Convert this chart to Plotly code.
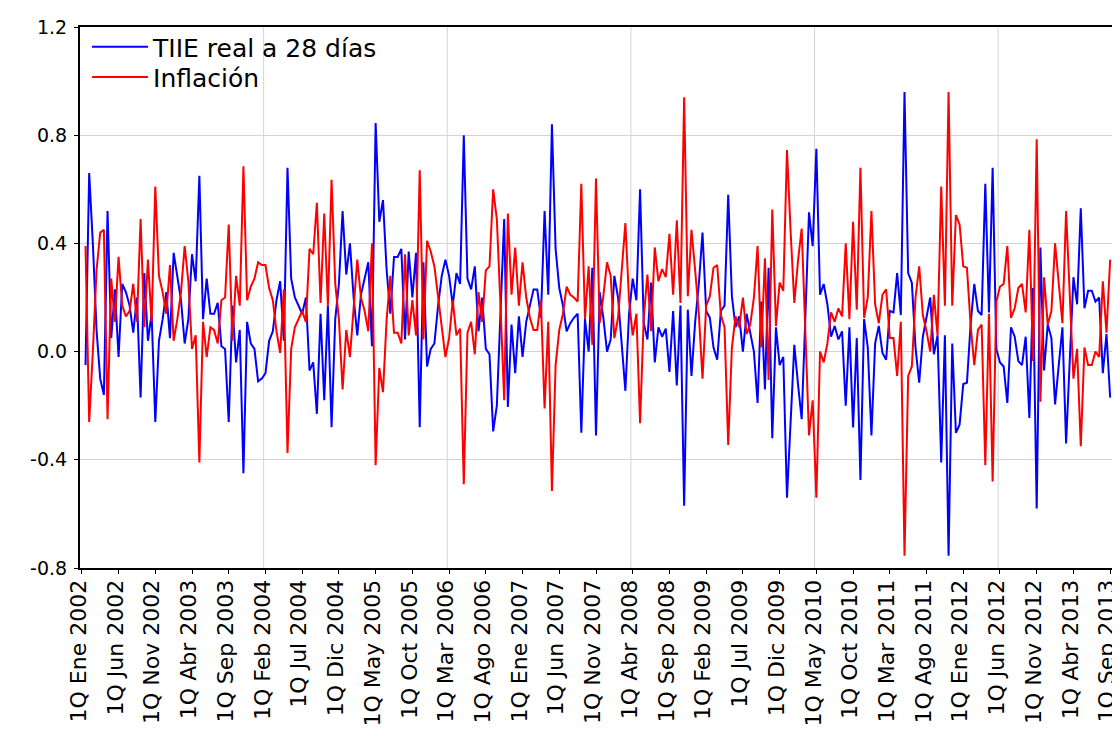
import plotly.graph_objects as go

# Biweekly periods: index 0 = 1Q Ene 2002 ... index 280 = 1Q Sep 2013
period_index = list(range(1, 281))

tiie_real = [
    -0.05, 0.66, 0.40, 0.08, -0.10, -0.16, 0.52, 0.05, 0.23, -0.02,
    0.25, 0.22, 0.17, 0.07, 0.20, -0.17, 0.29, 0.04, 0.14, -0.26,
    0.04, 0.12, 0.22, 0.05, 0.365, 0.27, 0.19, 0.03, 0.12, 0.36,
    0.26, 0.65, 0.12, 0.27, 0.14, 0.14, 0.18, 0.02, 0.01, -0.26,
    0.17, -0.04, 0.08, -0.45, 0.11, 0.03, 0.01, -0.11, -0.10, -0.08,
    0.04, 0.075, 0.19, 0.26, 0.04, 0.68, 0.27, 0.20, 0.17, 0.14,
    0.20, -0.07, -0.04, -0.23, 0.14, -0.18, 0.17, -0.28, 0.12, 0.25,
    0.52, 0.285, 0.40, 0.20, 0.06, 0.21, 0.27, 0.33, 0.02, 0.845,
    0.48, 0.56, 0.30, 0.14, 0.35, 0.35, 0.38, 0.045, 0.37, 0.20,
    0.365, -0.28, 0.33, -0.055, 0.01, 0.03, 0.17, 0.28, 0.34, 0.28,
    0.17, 0.29, 0.25, 0.80, 0.27, 0.23, 0.315, 0.075, 0.20, 0.01,
    -0.01, -0.295, -0.20, 0.12, 0.49, -0.205, 0.10, -0.08, 0.13, -0.02,
    0.11, 0.17, 0.23, 0.23, 0.125, 0.52, 0.21, 0.84, 0.38, 0.235,
    0.17, 0.075, 0.105, 0.125, 0.14, -0.30, 0.12, 0.00, 0.31, -0.31,
    0.22, 0.125, 0.00, 0.045, 0.28, 0.20, 0.04, -0.145, 0.14, 0.27,
    0.19, 0.60, 0.105, 0.045, 0.255, -0.04, 0.09, 0.055, 0.085, -0.075,
    0.15, -0.125, 0.17, -0.57, 0.155, -0.09, 0.11, 0.25, 0.44, 0.15,
    0.125, 0.015, -0.03, 0.15, 0.17, 0.58, 0.205, 0.09, 0.13, 0.00,
    0.14, 0.075, 0.00, -0.19, 0.185, -0.14, 0.31, -0.32, 0.09, -0.05,
    -0.02, -0.54, -0.26, 0.025, -0.12, -0.25, 0.125, 0.515, 0.39, 0.75,
    0.21, 0.25, 0.175, 0.055, 0.095, 0.045, 0.075, -0.20, 0.09, -0.28,
    0.05, -0.475, 0.12, 0.015, -0.31, 0.03, 0.095, -0.005, -0.03, 0.15,
    0.145, 0.29, 0.135, 0.96, 0.29, 0.255, 0.015, -0.115, 0.055, 0.125,
    0.20, -0.01, 0.06, -0.41, 0.06, -0.755, 0.03, -0.30, -0.27, -0.12,
    -0.115, 0.10, 0.25, 0.15, 0.135, 0.62, 0.145, 0.68, 0.01, -0.04,
    -0.055, -0.19, 0.09, 0.055, -0.035, -0.05, 0.055, -0.245, 0.235, -0.58,
    0.385, -0.07, 0.10, 0.05, -0.195, -0.05, 0.09, -0.34, -0.035, 0.275,
    0.175, 0.53, 0.16, 0.225, 0.225, 0.185, 0.20, -0.08, 0.065, -0.17,
]

inflacion = [
    0.39, -0.26, 0.00, 0.30, 0.44, 0.45, -0.25, 0.27, 0.11, 0.35,
    0.17, 0.13, 0.15, 0.25, 0.11, 0.49, 0.09, 0.34, 0.11, 0.61,
    0.28, 0.22, 0.14, 0.32, 0.04, 0.12, 0.22, 0.39, 0.26, 0.01,
    0.06, -0.41, 0.11, -0.02, 0.09, 0.08, 0.03, 0.19, 0.20, 0.47,
    0.04, 0.28, 0.17, 0.685, 0.19, 0.24, 0.27, 0.33, 0.32, 0.32,
    0.235, 0.19, 0.075, -0.005, 0.23, -0.375, 0.01, 0.09, 0.12, 0.15,
    0.11, 0.38, 0.36, 0.55, 0.18, 0.51, 0.17, 0.635, 0.25, 0.12,
    -0.14, 0.08, -0.02, 0.16, 0.34, 0.20, 0.15, 0.075, 0.40, -0.42,
    -0.06, -0.15, 0.12, 0.28, 0.07, 0.07, 0.03, 0.36, 0.06, 0.19,
    0.06, 0.67, 0.045, 0.41, 0.37, 0.315, 0.20, 0.075, -0.02, 0.05,
    0.19, 0.06, 0.085, -0.49, 0.07, 0.11, -0.01, 0.22, 0.11, 0.30,
    0.315, 0.60, 0.49, 0.17, -0.18, 0.51, 0.21, 0.385, 0.17, 0.33,
    0.20, 0.125, 0.08, 0.08, 0.19, -0.21, 0.11, -0.515, -0.05, 0.08,
    0.14, 0.24, 0.21, 0.20, 0.185, 0.62, 0.12, 0.315, 0.025, 0.64,
    0.105, 0.205, 0.33, 0.28, 0.05, 0.125, 0.30, 0.475, 0.19, 0.06,
    0.14, -0.265, 0.125, 0.285, 0.075, 0.385, 0.26, 0.305, 0.275, 0.435,
    0.21, 0.485, 0.18, 0.94, 0.205, 0.45, 0.30, 0.14, -0.10, 0.17,
    0.205, 0.31, 0.32, 0.135, 0.09, -0.345, 0.015, 0.13, 0.09, 0.20,
    0.065, 0.10, 0.20, 0.39, 0.015, 0.345, -0.105, 0.525, 0.095, 0.255,
    0.225, 0.745, 0.44, 0.18, 0.335, 0.455, 0.075, -0.31, -0.18, -0.54,
    0.00, -0.04, 0.03, 0.145, 0.11, 0.16, 0.13, 0.40, 0.12, 0.48,
    0.155, 0.68, 0.125, 0.20, 0.52, 0.175, 0.105, 0.21, 0.23, 0.05,
    0.05, -0.09, 0.11, -0.755, -0.09, -0.055, 0.20, 0.315, 0.135, 0.075,
    0.00, 0.21, 0.06, 0.61, 0.17, 0.96, 0.17, 0.505, 0.47, 0.315,
    0.31, 0.10, -0.05, 0.08, 0.10, -0.42, 0.14, -0.48, 0.185, 0.24,
    0.25, 0.39, 0.125, 0.16, 0.235, 0.25, 0.145, 0.45, -0.035, 0.785,
    -0.185, 0.275, 0.10, 0.15, 0.40, 0.25, 0.105, 0.52, 0.22, -0.10,
    0.01, -0.35, 0.015, -0.05, -0.05, 0.00, -0.02, 0.26, 0.07, 0.34,
]

tick_positions = list(range(0, 281, 10))
tick_labels = [
    "1Q Ene 2002", "1Q Jun 2002", "1Q Nov 2002", "1Q Abr 2003", "1Q Sep 2003",
    "1Q Feb 2004", "1Q Jul 2004", "1Q Dic 2004", "1Q May 2005", "1Q Oct 2005",
    "1Q Mar 2006", "1Q Ago 2006", "1Q Ene 2007", "1Q Jun 2007", "1Q Nov 2007",
    "1Q Abr 2008", "1Q Sep 2008", "1Q Feb 2009", "1Q Jul 2009", "1Q Dic 2009",
    "1Q May 2010", "1Q Oct 2010", "1Q Mar 2011", "1Q Ago 2011", "1Q Ene 2012",
    "1Q Jun 2012", "1Q Nov 2012", "1Q Abr 2013", "1Q Sep 2013",
]
grid_positions = tick_positions[5::5]
y_ticks = [-0.8, -0.4, 0.0, 0.4, 0.8, 1.2]

FONT = "DejaVu Sans, Liberation Sans, Arial, sans-serif"

fig = go.Figure()
fig.add_trace(go.Scatter(x=period_index, y=tiie_real, mode="lines",
                         name="TIIE real a 28 días", legend="legend",
                         line=dict(color="#0000FF", width=2)))
fig.add_trace(go.Scatter(x=period_index, y=inflacion, mode="lines",
                         name="Inflación", legend="legend2",
                         line=dict(color="#FF0000", width=2)))

shapes = []
for g in grid_positions:
    shapes.append(dict(type="line", xref="x", yref="paper", x0=g - 0.5, x1=g - 0.5,
                       y0=0, y1=1, layer="below",
                       line=dict(color="#d4d4d4", width=1)))
fig.update_layout(shapes=shapes)

legend_style = dict(xanchor="left", yanchor="middle", x=0.0068,
                    bgcolor="rgba(255,255,255,0)", borderwidth=0,
                    font=dict(size=25, family=FONT), itemwidth=56)

# The page body adds an 8 px margin, so the figure is sized to fit the window.
fig.update_layout(
    width=1112, height=728,
    margin=dict(l=72, r=8, t=19, b=168, autoexpand=False),
    paper_bgcolor="white", plot_bgcolor="white",
    font=dict(family=FONT, color="black"),
    showlegend=True,
    legend=dict(y=0.963, **legend_style),
    legend2=dict(y=0.907, **legend_style),
    xaxis=dict(range=[-0.5, 280.5], tickmode="array", tickvals=tick_positions,
               ticktext=tick_labels, tickangle=-90, showgrid=False,
               automargin=False, ticklabelstandoff=-3, ticklabelshift=-3,
               ticklabeloverflow="allow",
               zeroline=False, showline=True, linecolor="black", linewidth=2,
               mirror=True, ticks="outside", ticklen=4, tickcolor="black",
               tickfont=dict(size=22, family=FONT)),
    yaxis=dict(range=[-0.8, 1.2], tickmode="array", tickvals=y_ticks,
               ticktext=[f"{v:.1f}" for v in y_ticks],
               automargin=False, ticklabelstandoff=3,
               showgrid=True, gridcolor="#d4d4d4", gridwidth=1,
               zeroline=False, showline=True, linecolor="black", linewidth=2,
               mirror=True, ticks="outside", ticklen=4, tickcolor="black",
               tickfont=dict(size=19, family=FONT)),
)

fig.write_html("out.html")
